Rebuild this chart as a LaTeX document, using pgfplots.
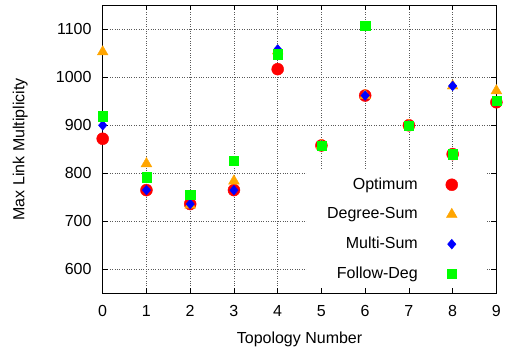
\documentclass[border=0pt]{standalone}
\usepackage{fontspec}
\setmainfont{Liberation Sans}
\usepackage{pgfplots}
\pgfplotsset{compat=1.18}
\definecolor{gporange}{RGB}{255,165,0}
\definecolor{gpgreen}{RGB}{0,255,0}
\begin{document}
\begin{tikzpicture}
\path[use as bounding box] (-102.7pt,-55.7pt) rectangle (406.3pt,293.3pt);
\begin{axis}[
  at={(0,0)}, anchor=south west,
  scale only axis, width=393.7pt, height=288pt,
  xmin=0, xmax=9, ymin=550, ymax=1150,
  xtick={0,...,9}, ytick={600,700,...,1100},
  font=\fontsize{16}{19.2}\selectfont,
  /pgf/number format/assume math mode=true,
  /pgf/number format/1000 sep={},
  tick label style={font=\fontsize{16}{19.2}\selectfont},
  yticklabel style={inner sep=0pt, xshift=-11pt},
  xticklabel style={inner sep=0pt, yshift=-12pt},
  xlabel={Topology Number}, ylabel={Max Link Multiplicity},
  every axis x label/.style={at={(axis description cs:0.5,-0.1333)}, anchor=north, inner sep=0pt},
  every axis y label/.style={at={(axis description cs:-0.1897,0.5)}, rotate=90, anchor=south, inner sep=0pt},
  axis line style={line width=1.1pt},
  tick style={black, line width=0.8pt},
  major tick length=5pt,
  tick align=inside,
  xtick pos=both, ytick pos=both,
  grid=major,
  grid style={black!65, line width=0.7pt, dash pattern=on 0.8pt off 1.6pt},
  clip=false,
  legend plot pos=right,
  legend cell align=right,
  legend image code/.code={%
    \path[draw=none, fill=none] (0pt,0pt) (21pt,0pt);
    \draw[#1, only marks] plot coordinates {(6pt,0pt)};},
  legend style={at={(axis description cs:0.9761,0.428)}, anchor=north east,
    fill=white, draw=none, inner xsep=20pt, inner ysep=7pt,
    column sep=28pt, row sep=14.7pt,
    nodes={inner sep=0pt, text height=12pt, text depth=3pt},
    font=\fontsize{16}{19.2}\selectfont},
]
\addplot[only marks, mark=*, mark size=6pt, color=red, mark options={draw=red, fill=red}]
  coordinates {(0,872) (1,765) (2,736) (3,765) (4,1017) (5,858) (6,962) (7,900) (8,840) (9,948)};
\addlegendentry{Optimum}
\addplot[only marks, mark=triangle*, mark size=6.2pt, color=gporange, mark options={draw=gporange, fill=gporange}]
  coordinates {(0,1053) (1,820) (2,734) (3,784) (4,1055) (5,858) (6,962) (7,900) (8,982) (9,972)};
\addlegendentry{Degree-Sum}
\addplot[only marks, mark=diamond*, mark size=4.9pt, color=blue, mark options={draw=blue, fill=blue, xscale=1.15}]
  coordinates {(0,900) (1,765) (2,736) (3,765) (4,1058) (5,858) (6,962) (7,900) (8,982) (9,950)};
\addlegendentry{Multi-Sum}
\addplot[only marks, mark=square*, mark size=4.6pt, color=gpgreen, mark options={draw=gpgreen, fill=gpgreen}]
  coordinates {(0,919) (1,792) (2,755) (3,826) (4,1048) (5,858) (6,1107) (7,900) (8,840) (9,952)};
\addlegendentry{Follow-Deg}
\end{axis}
\end{tikzpicture}
\end{document}
